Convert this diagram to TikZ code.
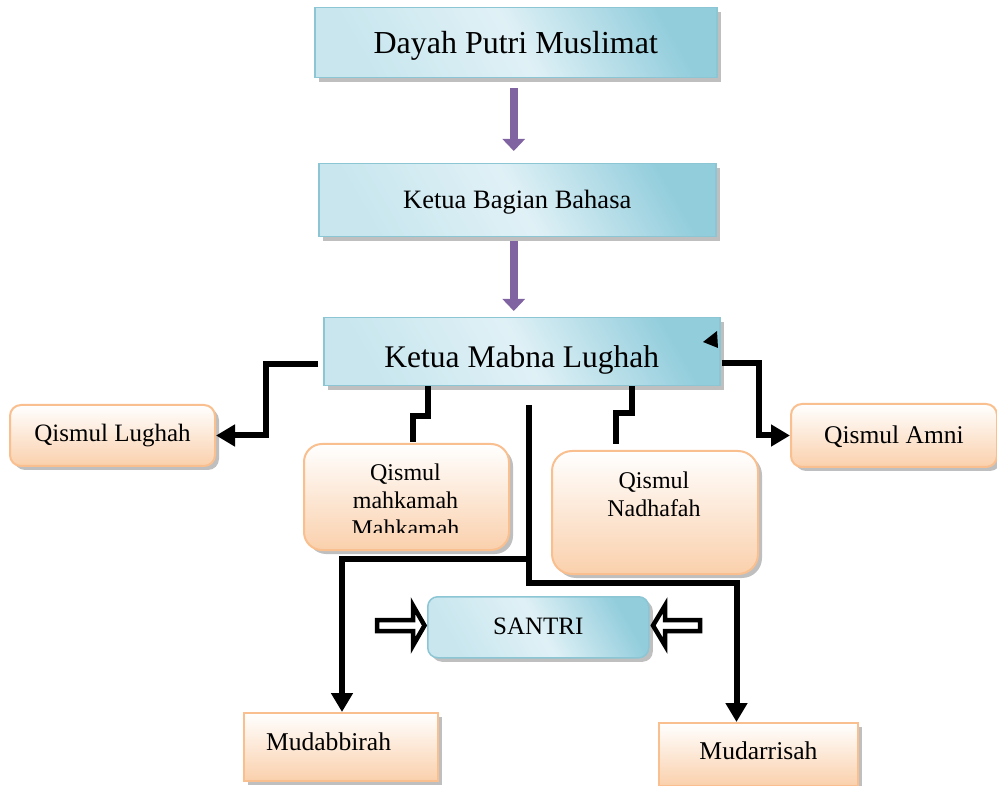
\documentclass[tikz,border=0pt]{standalone}
\usepackage{fontspec}
\setmainfont{Liberation Serif}
\usetikzlibrary{arrows.meta,shadows,calc}
\definecolor{bluedark}{HTML}{92CDDC}
\definecolor{bluelight}{HTML}{E0F1F6}
\definecolor{blueline}{HTML}{8CC6D5}
\definecolor{orline}{HTML}{F9BF8F}
\definecolor{orbottom}{HTML}{FAD0AC}
\definecolor{arrpurple}{HTML}{8064A2}
\tikzset{
  bshadow/.style={drop shadow={shadow xshift=4pt,shadow yshift=-4pt,fill=black!50,opacity=0.5}},
  bluebox/.style={draw=blueline,line width=1.5pt,left color=bluedark!30!bluelight,right color=bluedark,middle color=bluelight,shading angle=120,bshadow,inner sep=0pt,anchor=north west},
  orbox/.style={draw=orline,line width=2pt,top color=white,bottom color=orbottom,bshadow,inner sep=0pt,anchor=north west},
  baseoff/.style={text height=#1,text depth=0pt},
  blk/.style={line width=6pt,black},
  blkarr/.style={blk,-{Triangle[length=19pt,width=21pt]}},
  purarr/.style={line width=8pt,arrpurple,-{Triangle[length=12pt,width=22pt]}},
  hollow/.style={draw=black,line width=4.5pt,fill=white,line join=miter},
}
\begin{document}
\begin{tikzpicture}[x=1pt,y=-1pt]
\useasboundingbox (0,0) rectangle (997,786);
% blue boxes
\node[bluebox,minimum width=402pt,minimum height=70pt,font=\fontsize{32}{38}\selectfont,baseoff=22pt] (dayah) at (314,7) {Dayah Putri Muslimat};
\node[bluebox,minimum width=397pt,minimum height=73pt,font=\fontsize{26.5}{32}\selectfont,baseoff=17pt] (bagian) at (318,163) {Ketua Bagian Bahasa};
\node[bluebox,minimum width=396pt,minimum height=68pt,font=\fontsize{31.5}{38}\selectfont,baseoff=32pt] (mabna) at (323,317) {Ketua Mabna Lughah};
\node[bluebox,rounded corners=10pt,minimum width=221pt,minimum height=61pt,font=\fontsize{25}{30}\selectfont,baseoff=15pt] (santri) at (427,596) {SANTRI};
% orange boxes
\node[orbox,rounded corners=11pt,minimum width=205pt,minimum height=61pt,font=\fontsize{25}{30}\selectfont,baseoff=12pt] (lughah) at (9,404) {Qismul Lughah};
\node[orbox,rounded corners=11pt,minimum width=206pt,minimum height=63pt,font=\fontsize{25.5}{30}\selectfont,baseoff=17pt] (amni) at (790,403) {Qismul Amni};
\node[orbox,rounded corners=18pt,minimum width=205pt,minimum height=106pt] (mahk) at (303,443) {};
\node[orbox,rounded corners=20pt,minimum width=206pt,minimum height=123pt] (nad) at (551,450) {};
\node[orbox,minimum width=193pt,minimum height=68pt,text width=150pt,align=left,inner xsep=22pt,font=\fontsize{25.6}{30}\selectfont,baseoff=6pt] (mudab) at (243,712) {Mudabbirah};
\node[orbox,minimum width=199pt,minimum height=63pt,font=\fontsize{25.6}{30}\selectfont,baseoff=9pt] (mudar) at (658,722) {Mudarrisah};
% texts inside tall boxes
\begin{scope}
\clip (303,443) rectangle (508,532);
\node[font=\fontsize{24}{28}\selectfont,align=center,inner sep=0pt,anchor=north] (mahktext) at (405.5,463.6) {Qismul\\mahkamah\\Mahkamah};
\end{scope}
\node[font=\fontsize{24}{28}\selectfont,align=center,inner sep=0pt,anchor=north] (nadtext) at (654,471.6) {Qismul\\Nadhafah};
% purple arrows
\draw[purarr] ($(dayah.south)+(-2,10)$) -- ($(bagian.north)+(-3.5,-12)$);
\draw[purarr] ($(bagian.south)+(-3.5,4)$) -- ($(mabna.north)+(-8,-6)$);
% black connectors
\draw[blkarr] ($(mabna.west)+(-5,12)$) -- ++(-52,0) |- (lughah.east);
\draw[blkarr] ($(mabna.east)+(1,11)$) -- ++(37,0) |- (amni.west);
\draw[blk] ($(mabna.south west)+(105,0)$) -- ++(0,30) -| ($(mahk.north west)+(110,-1)$);
\draw[blk] ($(mabna.south west)+(309,0)$) -- ++(0,27) -| ($(nad.north west)+(65,-6)$);
\coordinate (cstart) at (529,405);
\coordinate (cmid) at (529,559);
\coordinate (clow) at (529,583);
\draw[blkarr] (cstart) -- (cmid) -| ($(mudab.north)+(1,0)$);
\draw[blkarr] (cmid) -- (clow) -| ($(mudar.north)+(-22,0)$);
% hollow arrows toward SANTRI
\draw[hollow] (377,620) -- (413,620) -- (413,605.5) -- (424.5,625.5) -- (413,645.5) -- (413,631) -- (377,631) -- cycle;
\draw[hollow] (700,620) -- (665,620) -- (665,605.5) -- (653,625.5) -- (665,645.5) -- (665,631) -- (700,631) -- cycle;
% small triangle in Mabna box
\fill[black] (717,331) -- (718,348) -- (703,342) -- cycle;
\end{tikzpicture}
\end{document}
